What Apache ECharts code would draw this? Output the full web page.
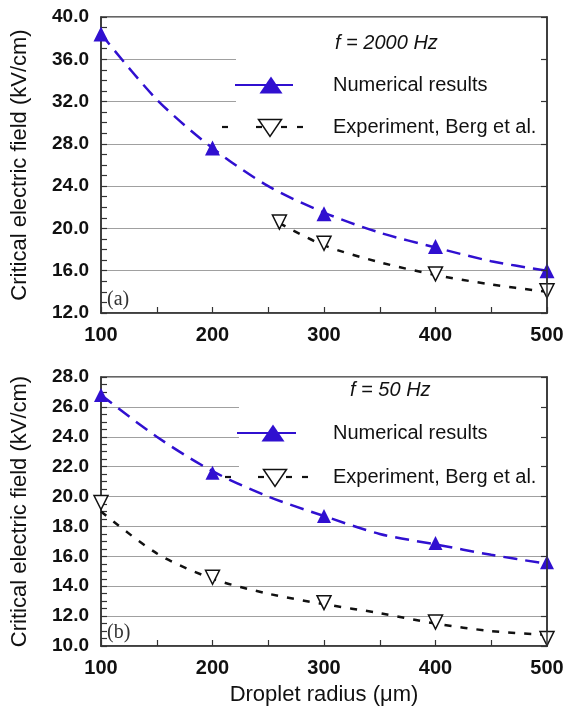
<!DOCTYPE html>
<html>
<head>
<meta charset="utf-8">
<script src="https://cdn.jsdelivr.net/npm/echarts@6/dist/echarts.min.js"></script>
<style>
html,body{margin:0;padding:0;background:#fff;}
#chart{width:569px;height:707px;}
</style>
</head>
<body>
<div id="chart"></div>
<script>
// ---- data ----
const radiusTicks = [100, 200, 300, 400, 500];
const radiusNum = [100, 200, 300, 400, 500];
const numA = [38.4, 27.6, 21.4, 18.3, 16.0];
const radiusExpA = [260, 300, 400, 500];
const expA = [20.6, 18.6, 15.7, 14.1];
const fitR = [100, 150, 200, 250, 300, 350, 400, 450, 500];
const fitNumA = [38.4, 32.2, 27.6, 24.0, 21.5, 19.6, 18.2, 16.9, 16.0];
const fitExpAR = [260, 300, 350, 400, 450, 500];
const fitExpA = [20.5, 18.4, 16.8, 15.6, 14.7, 14.0];

const numB = [26.8, 21.6, 18.7, 16.9, 15.6];
const radiusExpB = [100, 200, 300, 400, 500];
const expB = [19.6, 14.6, 12.9, 11.6, 10.5];
const fitNumB = [26.8, 24.0, 21.7, 20.0, 18.7, 17.5, 16.8, 16.1, 15.5];
const fitExpB = [19.0, 16.2, 14.5, 13.5, 12.8, 12.2, 11.5, 11.0, 10.75];

const seriesNames = ['Numerical results', 'Experiment, Berg et al.'];
const freqLabels = ['f = 2000 Hz', 'f = 50 Hz'];
const panelLabels = ['(a)', '(b)'];
const yTitle = 'Critical electric field (kV/cm)';
const xTitle = 'Droplet radius (\u03bcm)';

const zip = (xs, ys) => xs.map((x, i) => [x, ys[i]]);

const BLUE = '#3010d0';
const AXIS = '#333';
const SANS = "'Liberation Sans', Arial, sans-serif";

function xAx(gi, showName) {
  return {
    type: 'value', gridIndex: gi, min: 100, max: 500, interval: 100,
    axisLine: {show: true, lineStyle: {color: AXIS, width: 1.5}},
    axisTick: {show: true, inside: true, length: 6, lineStyle: {color: AXIS, width: 1.2}},
    minorTick: {show: true, splitNumber: 2, length: 6, lineStyle: {color: AXIS, width: 1.2}},
    splitLine: {show: false},
    axisLabel: {color: '#111', fontSize: 20, fontWeight: 'bold', fontFamily: SANS, margin: 12},
    name: showName ? xTitle : '', nameLocation: 'middle', nameGap: 38,
    nameTextStyle: {color: '#111', fontSize: 22, fontFamily: SANS}
  };
}
function yLeft(gi, min, max, interval) {
  return {
    type: 'value', gridIndex: gi, min: min, max: max, interval: interval, position: 'left',
    axisLine: {show: true, lineStyle: {color: AXIS, width: 1.5}},
    axisTick: {show: true, inside: true, length: 6, lineStyle: {color: AXIS, width: 1.2}},
    minorTick: {show: true, splitNumber: 4, length: 6, lineStyle: {color: AXIS, width: 1.2}},
    splitLine: {show: true, lineStyle: {color: '#a0a0a0', width: 1.2}},
    axisLabel: {color: '#111', fontSize: 19, fontWeight: 'bold', fontFamily: SANS, margin: 12,
      formatter: v => v.toFixed(1)},
    name: yTitle, nameLocation: 'middle', nameGap: 70, nameRotate: 90,
    nameTextStyle: {color: '#111', fontSize: 22, fontFamily: SANS}
  };
}
function yRight(gi, min, max, interval) {
  return {
    type: 'value', gridIndex: gi, min: min, max: max, interval: interval, position: 'right', z: 5,
    axisLine: {show: true, lineStyle: {color: AXIS, width: 1.5}},
    axisTick: {show: true, inside: true, length: 6, lineStyle: {color: AXIS, width: 1.2}},
    splitLine: {show: false}, axisLabel: {show: false}
  };
}
function fitLine(xi, yi, data, color, dash) {
  return {type: 'line', xAxisIndex: xi, yAxisIndex: yi, data: data, symbol: 'none',
    smooth: 0.3, silent: true, z: 3,
    lineStyle: {color: color, width: 2.5, type: dash}};
}
function numMarks(xi, yi, data, size) {
  return {type: 'scatter', name: seriesNames[0], xAxisIndex: xi, yAxisIndex: yi, data: data,
    symbol: 'triangle', symbolSize: size, z: 4, itemStyle: {color: BLUE, opacity: 1}};
}
function expMarks(xi, yi, data, size) {
  return {type: 'scatter', name: seriesNames[1], xAxisIndex: xi, yAxisIndex: yi, data: data,
    symbol: 'triangle', symbolRotate: 180, symbolSize: size, z: 4,
    itemStyle: {color: '#fff', borderColor: '#111', borderWidth: 1.5, opacity: 1}};
}

// legend / annotation graphics
function triUp(cx, cy, w, h) {
  return {type: 'polygon', z: 10, shape: {points: [[cx - w/2, cy + h/2], [cx + w/2, cy + h/2], [cx, cy - h/2]]},
    style: {fill: BLUE}};
}
function triDown(cx, cy, w, h) {
  return {type: 'polygon', z: 10, shape: {points: [[cx - w/2, cy - h/2], [cx + w/2, cy - h/2], [cx, cy + h/2]]},
    style: {fill: '#fff', stroke: '#111', lineWidth: 1.5}};
}
function seg(x1, x2, y, color) {
  return {type: 'line', z: 9, shape: {x1: x1, y1: y, x2: x2, y2: y}, style: {stroke: color, lineWidth: 2.2}};
}
function txt(x, y, s, extra) {
  return {type: 'text', z: 10, x: x, y: y,
    style: Object.assign({text: s, fill: '#111', font: '20px ' + SANS, textVerticalAlign: 'middle', verticalAlign: 'middle'}, extra || {})};
}

const graphics = [
  // white legend boxes hiding grid lines
  {type: 'rect', z: 1, shape: {x: 236, y: 19, width: 305, height: 120}, style: {fill: '#fff'}},
  {type: 'rect', z: 1, shape: {x: 239, y: 379, width: 302, height: 111}, style: {fill: '#fff'}},
  // top legend
  txt(335, 43, freqLabels[0], {font: 'italic 20px ' + SANS}),
  seg(235, 293, 85, BLUE), triUp(271, 85, 23, 17), txt(333, 85, seriesNames[0]),
  seg(222, 228, 127, '#111'), seg(256, 262, 127, '#111'), seg(281, 287, 127, '#111'), seg(297, 303, 127, '#111'),
  triDown(270, 128, 23, 17), txt(333, 127, seriesNames[1]),
  // bottom legend
  txt(350, 390, freqLabels[1], {font: 'italic 20px ' + SANS}),
  seg(237, 296, 433, BLUE), triUp(273, 433, 23, 17), txt(333, 433, seriesNames[0]),
  seg(225, 231, 477, '#111'), seg(258, 264, 477, '#111'), seg(286, 292, 477, '#111'), seg(302, 308, 477, '#111'),
  triDown(275, 478, 23, 17), txt(333, 477, seriesNames[1]),
  // panel labels
  txt(107, 300, panelLabels[0], {font: '20px "Liberation Serif", "Times New Roman", serif', fill: '#333'}),
  txt(107, 633, panelLabels[1], {font: '20px "Liberation Serif", "Times New Roman", serif', fill: '#333'})
];

const option = {
  backgroundColor: '#fff',
  animation: false,
  grid: [
    {left: 101, top: 17, width: 446, height: 296, show: true, borderColor: AXIS, borderWidth: 1.5, backgroundColor: 'transparent'},
    {left: 101, top: 377, width: 446, height: 271, show: true, borderColor: AXIS, borderWidth: 1.5, backgroundColor: 'transparent'}
  ],
  xAxis: [xAx(0, false), xAx(1, true)],
  yAxis: [yLeft(0, 12, 40, 4), yRight(0, 12, 40, 4), yLeft(1, 10, 28, 2), yRight(1, 10, 28, 2)],
  graphic: {elements: graphics},
  series: [
    fitLine(0, 0, zip(fitR, fitNumA), BLUE, [14, 8]),
    fitLine(0, 0, zip(fitExpAR, fitExpA), '#111', [7, 9]),
    numMarks(0, 0, zip(radiusNum, numA), 15),
    expMarks(0, 0, zip(radiusExpA, expA), 14),
    fitLine(1, 2, zip(fitR, fitNumB), BLUE, [14, 8]),
    fitLine(1, 2, zip(fitR, fitExpB), '#111', [7, 9]),
    numMarks(1, 2, zip(radiusNum, numB), 14),
    expMarks(1, 2, zip(radiusExpB, expB), 14)
  ]
};

const chart = echarts.init(document.getElementById('chart'), null, {renderer: 'canvas'});
chart.setOption(option);
</script>
</body>
</html>
